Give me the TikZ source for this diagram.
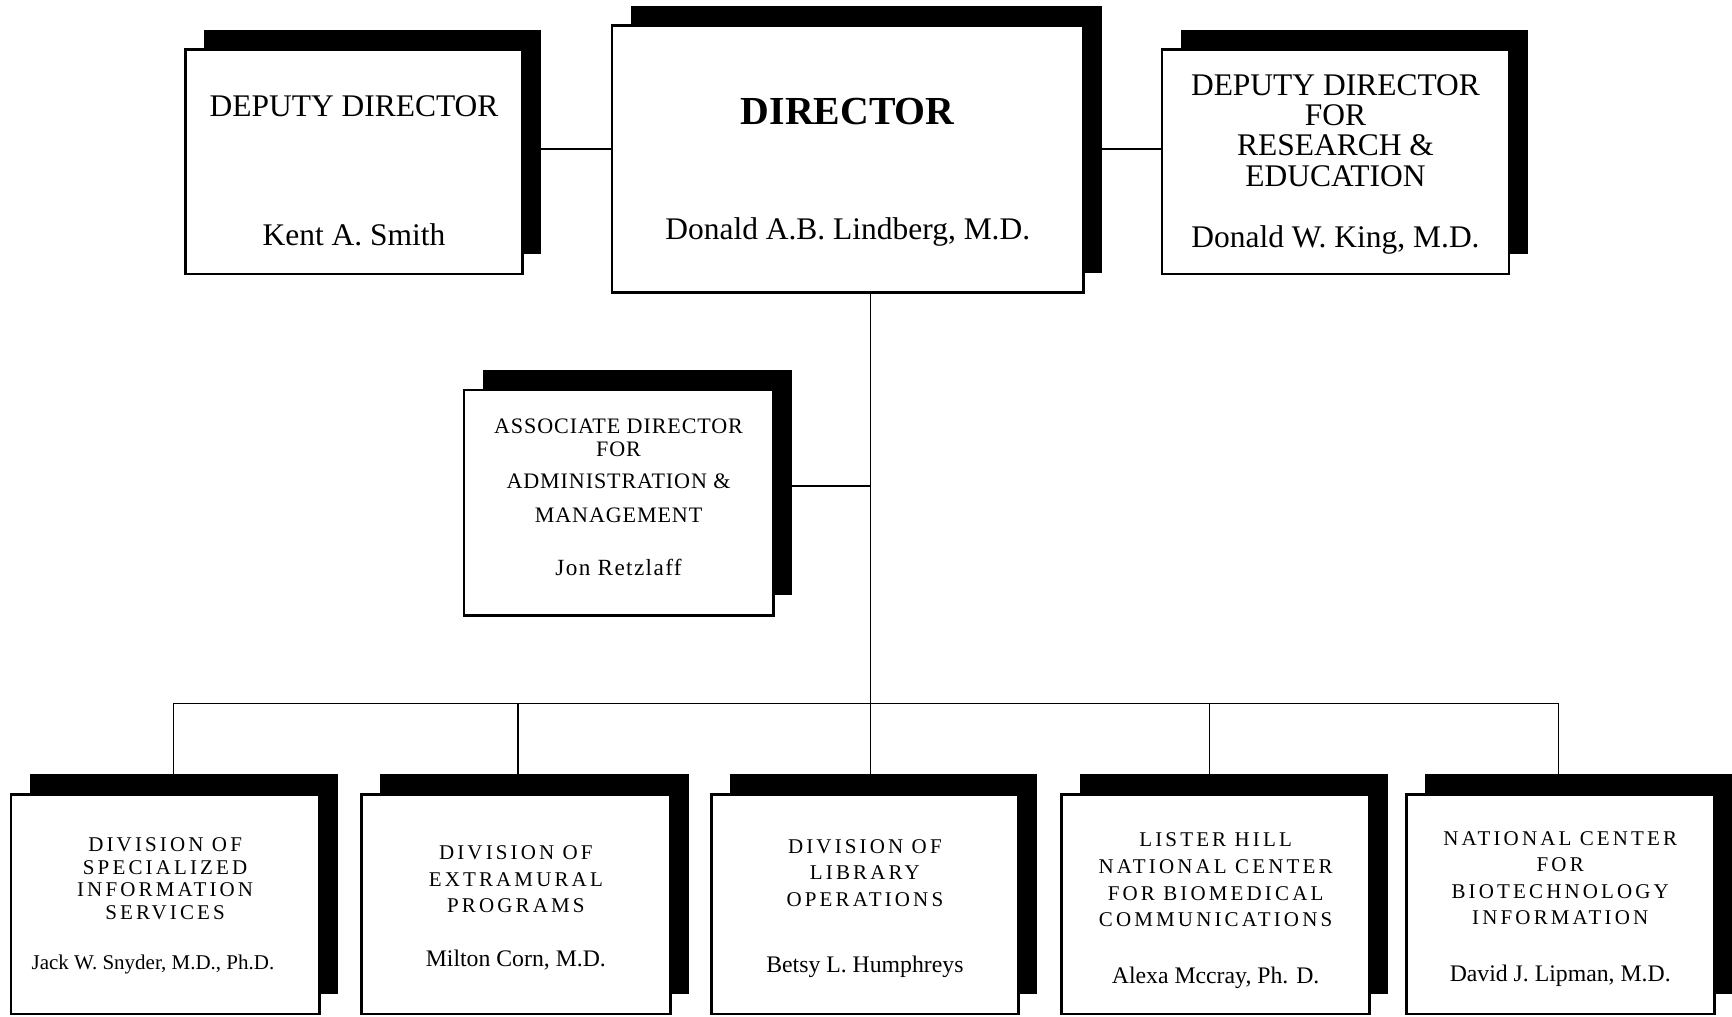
\documentclass[tikz,border=0pt]{standalone}
\usepackage{fontspec}
\setmainfont{Liberation Serif}
\newfontfamily\widespaced[LetterSpace=15]{Liberation Serif}
\newfontfamily\slightspaced[LetterSpace=4]{Liberation Serif}
\newfontfamily\namespaced[LetterSpace=6]{Liberation Serif}
\usetikzlibrary{positioning,shadows}

\begin{document}
\begin{tikzpicture}[x=1pt, y=-1pt,
	officenode/.style={rectangle, draw=black, line width=2.5pt, fill=white, inner sep=0pt, outer sep=0pt,
		general shadow={fill=black, shadow xshift=17pt, shadow yshift=18pt}},
	titletext/.style={align=center, inner sep=0pt, anchor=north},
	nametext/.style={inner sep=0pt, anchor=base},
	topfont/.style={font=\fontsize{28.5}{27.5}\selectfont},
	midfont/.style={font=\slightspaced\fontsize{20}{20.5}\selectfont},
	lowfont/.style={font=\widespaced\fontsize{19}{24}\selectfont},
	lowname/.style={font=\fontsize{21.5}{24}\selectfont},
	link/.style={line width=1.2pt},
	]
	\useasboundingbox (0,0) rectangle (1568,920);
	
	%Nodes
	\node[officenode, minimum width=427pt, minimum height=242pt] (director) at (767.5,144) {};
	\node[officenode, minimum width=305pt, minimum height=203pt] (deputy) at (320.5,146.5) {};
	\node[officenode, minimum width=314pt, minimum height=203pt] (deputyre) at (1209,146.5) {};
	\node[officenode, minimum width=280pt, minimum height=204pt] (assocdir) at (560,455) {};
	\node[officenode, minimum width=279pt, minimum height=199pt] (dsis) at (149.5,818.5) {};
	\node[officenode, minimum width=280pt, minimum height=199pt] (dextra) [right=38pt of dsis] {};
	\node[officenode, minimum width=278pt, minimum height=199pt] (dlo) [right=37pt of dextra] {};
	\node[officenode, minimum width=279pt, minimum height=199pt] (lhncbc) [right=39pt of dlo] {};
	\node[officenode, minimum width=279pt, minimum height=199pt] (ncbi) [right=33pt of lhncbc] {};
	
	%Texts
	\node[titletext, font=\bfseries\fontsize{36}{36}\selectfont] (directortitle) at ([yshift=-66pt]director.north) {DIRECTOR};
	\node[nametext, topfont] (directorname) at ([yshift=-194pt]director.north) {Donald A.B. Lindberg, M.D.};
	\node[titletext, topfont] (deputytitle) at ([yshift=-41pt]deputy.north) {DEPUTY DIRECTOR};
	\node[nametext, topfont] (deputyname) at ([yshift=-177pt]deputy.north) {Kent A. Smith};
	\node[titletext, topfont] (deputyretitle) at ([yshift=-22pt]deputyre.north) {DEPUTY DIRECTOR\\FOR\\RESEARCH \&\\EDUCATION};
	\node[nametext, topfont] (deputyrename) at ([yshift=-179pt]deputyre.north) {Donald W. King, M.D.};
	\node[titletext, midfont] (assocdirtitle) at ([yshift=-26pt]assocdir.north) {ASSOCIATE DIRECTOR\\FOR\\[9pt]ADMINISTRATION \&\\[10pt]MANAGEMENT};
	\node[nametext, font=\namespaced\fontsize{21}{24}\selectfont] (assocdirname) at ([yshift=-168pt]assocdir.north) {Jon Retzlaff};
	\node[titletext, font=\widespaced\fontsize{19}{20.3}\selectfont] (dsistitle) at ([yshift=-39.5pt]dsis.north) {DIVISION OF\\SPECIALIZED\\INFORMATION\\SERVICES};
	\node[nametext, font=\fontsize{19}{22}\selectfont] (dsisname) at ([xshift=-11pt, yshift=-159pt]dsis.north) {Jack W. Snyder, M.D., Ph.D.};
	\node[titletext, lowfont] (dextratitle) at ([yshift=-46.5pt]dextra.north) {DIVISION OF\\EXTRAMURAL\\PROGRAMS};
	\node[nametext, lowname] (dextraname) at ([yshift=-156pt]dextra.north) {Milton Corn, M.D.};
	\node[titletext, lowfont] (dlotitle) at ([yshift=-40.5pt]dlo.north) {DIVISION OF\\LIBRARY\\OPERATIONS};
	\node[nametext, lowname] (dloname) at ([yshift=-161pt]dlo.north) {Betsy L. Humphreys};
	\node[titletext, lowfont] (lhncbctitle) at ([yshift=-35pt]lhncbc.north) {LISTER HILL\\NATIONAL CENTER\\FOR BIOMEDICAL\\COMMUNICATIONS};
	\node[nametext, lowname] (lhncbcname) at ([yshift=-171pt]lhncbc.north) {Alexa Mccray, Ph. D.};
	\node[titletext, lowfont] (ncbititle) at ([yshift=-33.5pt]ncbi.north) {NATIONAL CENTER\\FOR\\BIOTECHNOLOGY\\INFORMATION};
	\node[nametext, lowname] (ncbiname) at ([yshift=-170pt]ncbi.north) {David J. Lipman, M.D.};
	
	%Lines
	\coordinate (hub) at (788,637);
	\draw[link] ([yshift=11.5pt]deputy.east) -- ([yshift=11.5pt]deputy.east -| director.west);
	\draw[link] ([yshift=9pt]director.east) -- ([yshift=9pt]director.east -| deputyre.west);
	\draw[link] (hub |- director.south) -- (hub);
	\draw[link] ([yshift=15pt]assocdir.east) -- ([yshift=15pt]assocdir.east -| hub);
	\draw[link] (hub) -| ([xshift=7.5pt]dsis.north);
	\draw[link] (hub) -| ([xshift=2pt]dextra.north);
	\draw[link] (hub) -- (hub |- dlo.north);
	\draw[link] (hub) -| ([xshift=-5.5pt]lhncbc.north);
	\draw[link] (hub) -| ([xshift=-1.5pt]ncbi.north);
	
\end{tikzpicture}
\end{document}
